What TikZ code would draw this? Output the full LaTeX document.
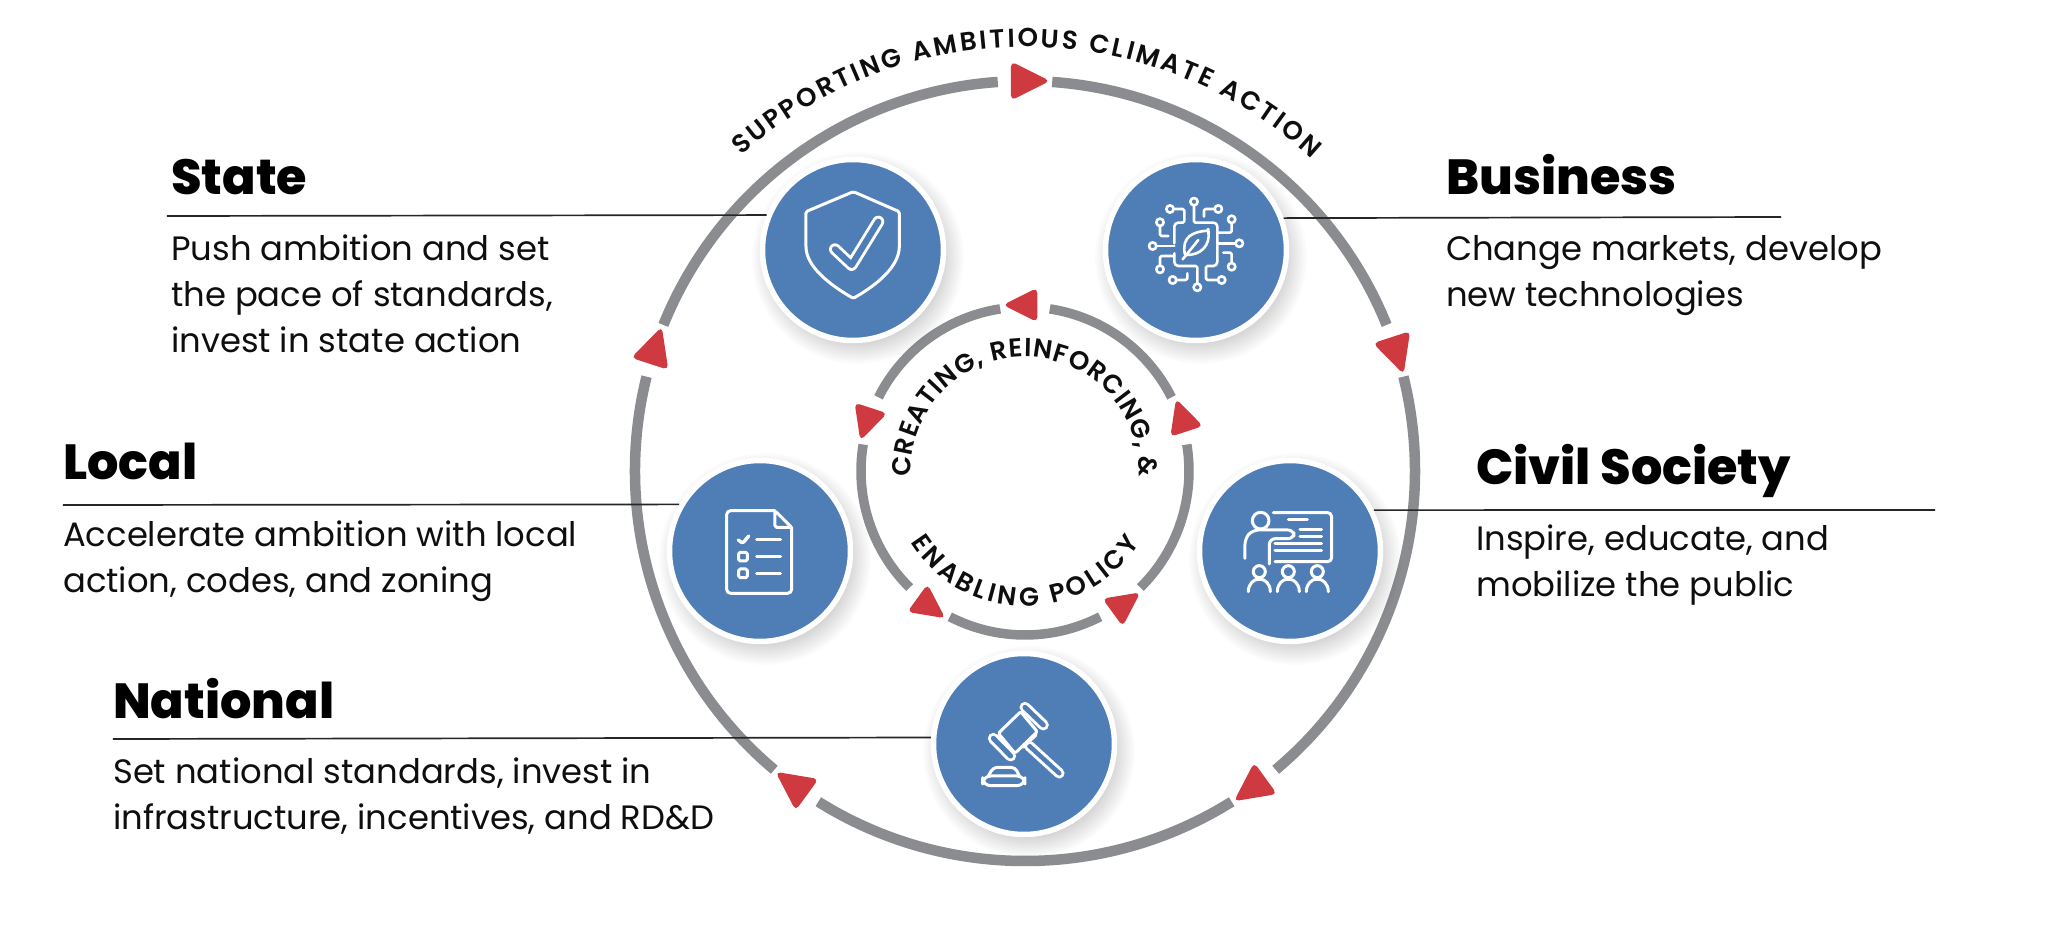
\documentclass[tikz,border=0pt]{standalone}
\usepackage{fontspec}
\setmainfont{Poppins}
\newfontfamily\blackf{Poppins ExtraBold}
\newfontfamily\boldf{Poppins SemiBold}
\usetikzlibrary{decorations.text}
\definecolor{ringgray}{HTML}{8A8C90}
\definecolor{hubblue}{HTML}{4F7DB6}
\definecolor{tipred}{HTML}{CF3A40}
\definecolor{ink}{HTML}{0E0E0E}
\tikzset{
  ring/.style={draw=ringgray,line width=10.5pt,line cap=butt},
  innerring/.style={draw=ringgray,line width=9.5pt,line cap=butt},
  hub/.style={circle,fill=hubblue,draw=white,line width=5.5pt,minimum size=181pt,inner sep=0pt},
  leader/.style={draw=black!85,line width=1.7pt},
  title/.style={anchor=base west,inner sep=0pt,text=black,font=\blackf\fontsize{49.3}{51}\selectfont},
  body/.style={anchor=base west,inner sep=0pt,text=ink,align=left,font=\fontsize{33.8}{46}\selectfont},
  icon/.style={draw=white,line width=3pt,line cap=round,line join=round,rounded corners=1.5pt},
  curve/.style={decorate,decoration={text along path,text align={fit to path},text color=ink}}
}
\newcommand{\hubshadow}[2]{%
  \foreach \k in {0,...,17}{\fill[black,opacity=.012] (#1+5,#2-8) circle ({106-1.6*\k});}%
}
\newcommand{\tipat}[4]{% angle radius rot scale
  \begin{scope}[shift={(#1:#2)},rotate=#3,scale=#4]
    \fill[tipred,rounded corners=5pt] (25,0)--(-14,19.5)--(-14,-19.5)--cycle;
  \end{scope}}
\newcommand{\capsule}[5]{% x1 y1 x2 y2 width
  \draw[white,line width=#5pt,line cap=round] (#1,#2)--(#3,#4);
  \draw[hubblue,line width=#5pt-6pt,line cap=round] (#1,#2)--(#3,#4);}
\begin{document}
\begin{tikzpicture}[x=1pt,y=1pt]
\useasboundingbox (-1025,-458) rectangle (1023,471);
\fill[white] (-1025,-458) rectangle (1023,471);
% rings
\foreach \a in {90,18,-54,-126,-198}{
  \draw[ring] (\a-4:390) arc[start angle=\a-4,end angle=\a-68,radius=390];
  \draw[innerring] (\a-8.7:164) arc[start angle=\a-8.7,end angle=\a-63.3,radius=164];
}
% arrowheads
\foreach \a in {90,18,-54,-126,-198}{\tipat{\a}{390}{\a-90}{1}}
\foreach \a in {90,18,-54,-126,-198}{\tipat{\a}{166}{\a+90}{.88}}
% curved text
\path[curve,decoration={text={|\boldf\fontsize{26}{26}\selectfont|SUPPORTING AMBITIOUS CLIMATE ACTION}}]
  (132:424) arc[start angle=132,end angle=47.5,radius=424];
\path[curve,decoration={text={|\boldf\fontsize{26}{26}\selectfont|CREATING, REINFORCING, {\&}}}]
  (183:114) arc[start angle=183,end angle=-3,radius=114];
\path[curve,decoration={text={|\boldf\fontsize{26}{26}\selectfont|ENABLING POLICY}}]
  (212:135) arc[start angle=212,end angle=328,radius=135];
% shadows and hubs
\hubshadow{-172}{221}\hubshadow{171}{221}\hubshadow{-265}{-80}\hubshadow{265}{-80}\hubshadow{-1}{-273}
\node[hub] (nState) at (-172,221) {};
\node[hub] (nBusiness) at (171,221) {};
\node[hub] (nLocal) at (-265,-80) {};
\node[hub] (nCivil) at (265,-80) {};
\node[hub] (nNational) at (-1,-273) {};
% leaders
\coordinate (tState) at (-858,255);
\coordinate (tBusiness) at (756,254);
\coordinate (tLocal) at (-962,-34);
\coordinate (tCivil) at (910,-39);
\coordinate (tNational) at (-912,-268);
\draw[leader] (tState) -- (nState.158.6);
\draw[leader] (tBusiness) -- (nBusiness.20.8);
\draw[leader] (tLocal) -- (nLocal.150.4);
\draw[leader] (tCivil) -- (nCivil.26.2);
\draw[leader] (tNational) -- (nNational.176.9);
% texts
\node[title] (hState) at (-854,276) {State};
\node[body] (bState) at (-854,118) {Push ambition and set\\the pace of standards,\\invest in state action};
\node[title] (hBusiness) at (421,276) {Business};
\node[body] (bBusiness) at (421,164) {Change markets, develop\\new technologies};
\node[title] (hLocal) at (-962,-9) {Local};
\node[body] (bLocal) at (-962,-121) {Accelerate ambition with local\\action, codes, and zoning};
\node[title] (hCivil) at (451,-13) {Civil Society};
\node[body] (bCivil) at (451,-125) {Inspire, educate, and\\mobilize the public};
\node[title] (hNational) at (-912,-247) {National};
\node[body] (bNational) at (-912,-358) {Set national standards, invest in\\infrastructure, incentives, and RD\&D};
% shield icon
\begin{scope}[shift={(-235,301)},x=.3333pt,y=-.3333pt]
  \draw[icon] (190,65)--(328,125)--(328,225) .. controls (328,290) and (260,345) .. (190,385) .. controls (120,345) and (48,290) .. (48,225)--(48,125)--cycle;
  \draw[white,line width=12pt,line cap=round,line join=round] (135,238)--(185,285)--(265,155);
  \draw[hubblue,line width=6.2pt,line cap=round,line join=round] (135,238)--(185,285)--(265,155);
\end{scope}
% circuit leaf icon
\begin{scope}[shift={(105,291)},x=.3333pt,y=-.3333pt]
  \foreach \p/\q in {120/87,192/65,265/87,305/118,328/190,305/260,275/300,202/322,128/300,90/268,68/198,90/127}
    \draw[icon,line width=2.6pt] (\p,\q) circle (11);
  \begin{scope}[icon,line width=2.6pt]
  \draw (131,87)--(163,87)--(163,128)--(140,128)--(133,135)--(133,190);
  \draw (192,76)--(192,128)--(255,128)--(262,135)--(262,250)--(255,258)--(228,258)--(228,300)--(264,300);
  \draw (254,87)--(222,87)--(222,110);
  \draw (305,129)--(305,158)--(262,158);
  \draw (317,190)--(262,190);
  \draw (305,249)--(305,218)--(280,218);
  \draw (202,311)--(202,258)--(140,258)--(133,250)--(133,220);
  \draw (139,300)--(172,300)--(172,280);
  \draw (90,257)--(90,228)--(133,228);
  \draw (79,198)--(133,198);
  \draw (90,138)--(90,168)--(115,168);
  \draw (235,152) .. controls (190,155) and (155,170) .. (165,225) .. controls (215,225) and (240,195) .. (235,152)--cycle;
  \draw (158,238)--(205,180);
  \end{scope}
\end{scope}
% checklist icon
\begin{scope}[shift={(-315,-19)},x=.3333pt,y=-.3333pt]
  \draw[icon,rounded corners=4pt] (195,62)--(50,62)--(50,310)--(245,310)--(245,112);
  \draw[icon] (195,62)--(245,112)--(195,112)--cycle;
  \draw[icon,line width=3.4pt] (85,150)--(98,160)--(116,138);
  \draw[icon] (140,150)--(212,150) (140,200)--(212,200) (140,250)--(212,250);
  \draw[icon] (86,187) rectangle (112,213) (86,237) rectangle (112,263);
\end{scope}
% presenter icon
\begin{scope}[shift={(195,-19)},x=.3333pt,y=-.3333pt]
  \draw[icon] (122,92) circle (25);
  \draw[icon,rounded corners=4pt] (160,68)--(335,68)--(335,215)--(165,215);
  \draw[icon] (205,88)--(262,88) (240,120)--(305,120) (240,140)--(305,140) (165,160)--(305,160) (165,182)--(305,182);
  \draw[icon,rounded corners=6pt] (148,222)--(148,146)--(222,146)--(222,120)--(98,120)--(75,145)--(75,205);
  \foreach \c in {118,205,292}{
    \draw[icon] (\c,245) circle (18);
    \draw[icon] (\c-33,305) .. controls (\c-33,280) and (\c-15,268) .. (\c,268) .. controls (\c+15,268) and (\c+33,280) .. (\c+33,305);
  }
\end{scope}
% gavel icon
\begin{scope}[shift={(-65,-219)},x=.3333pt,y=-.3333pt]
  \capsule{208}{168}{298}{250}{10.5}
  \draw[icon] (115,130)--(182,65)--(232,125)--(165,190)--cycle;
  \draw[icon] (190,172)--(228,135);
  \capsule{195}{52}{250}{105}{11}
  \capsule{100}{145}{152}{198}{11}
  \draw[icon,rounded corners=4pt] (85,258)--(100,232)--(165,232)--(178,258);
  \draw[icon,rounded corners=8pt] (68,258) rectangle (195,287);
\end{scope}
\end{tikzpicture}
\end{document}
